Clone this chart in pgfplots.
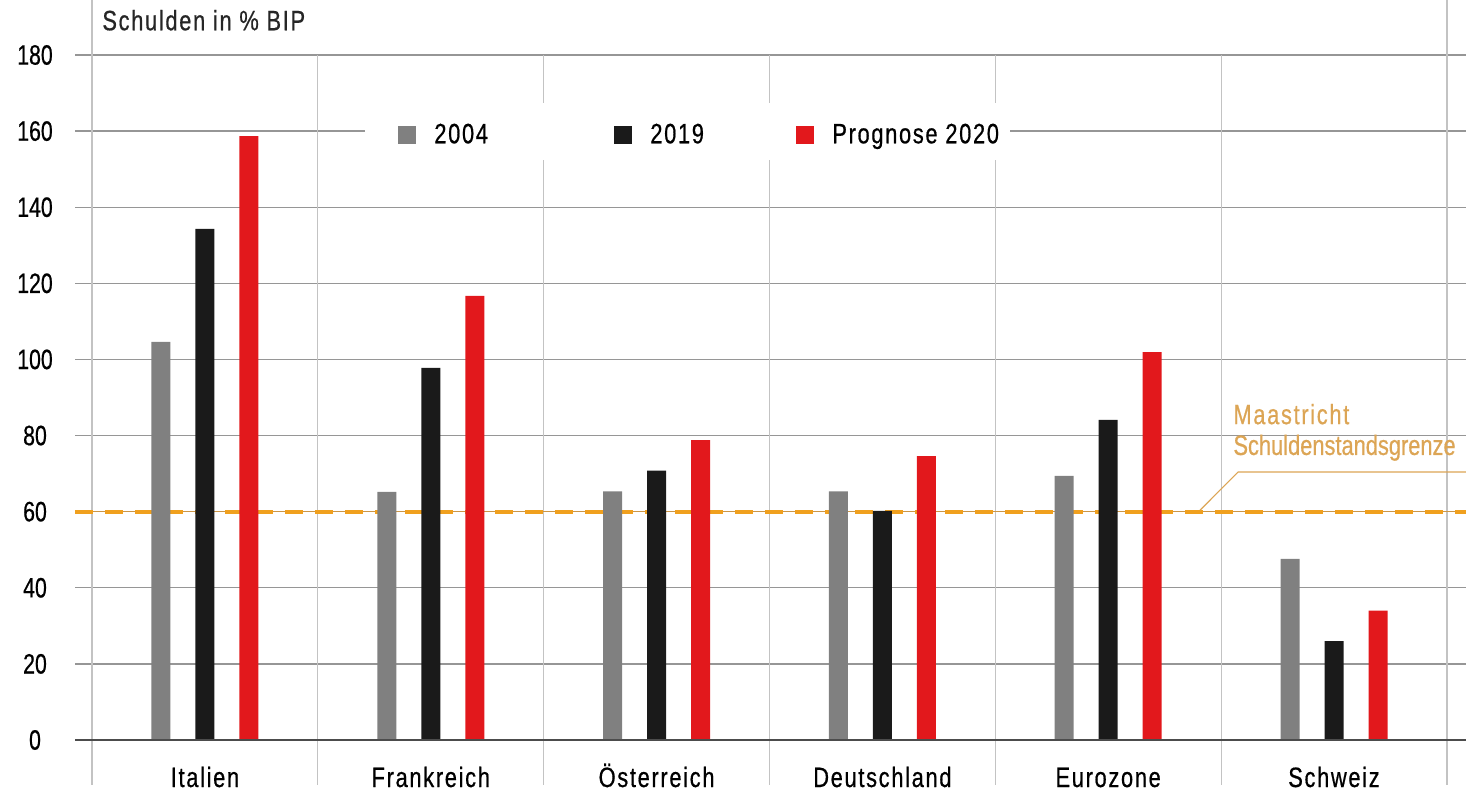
\documentclass[border=0pt]{standalone}
\usepackage{fontspec}
\setmainfont{Liberation Sans}[FakeStretch=0.78,LetterSpace=6,FakeBold=0.6]
\newfontfamily\numfont{Liberation Sans}[FakeStretch=0.76,FakeBold=0.6]
\usepackage{pgfplots}
\pgfplotsset{compat=1.18}

\definecolor{barGray}{RGB}{128,128,128}
\definecolor{barBlack}{RGB}{26,26,26}
\definecolor{barRed}{RGB}{226,24,28}
\definecolor{limitOrange}{RGB}{240,160,30}
\definecolor{limitThin}{RGB}{205,150,70}
\definecolor{noteTan}{RGB}{220,165,85}
\definecolor{gridH}{RGB}{150,150,150}
\definecolor{gridV}{RGB}{195,195,195}

\begin{document}
\begin{tikzpicture}[font=\fontsize{14}{16}\selectfont]
\path[use as bounding box, clip] (0,0) rectangle (733pt,396pt);
\begin{axis}[
  at={(37.5pt,26pt)}, anchor=south west,
  scale only axis, width=695.5pt, height=342.5pt,
  xmin=-0.5757, xmax=5.5846, ymin=0, ymax=180,
  clip=false,
  axis line style={draw=none},
  ytick={0,20,...,180},
  xtick={0,...,5},
  xticklabels={Italien,Frankreich,Österreich,Deutschland,Eurozone,Schweiz},
  major tick length=0pt,
  ymajorgrids, grid style={gridH, line width=0.7pt},
  /pgf/number format/assume math mode=true,
  yticklabel style={font=\numfont\fontsize{14}{16}\selectfont, anchor=center, xshift=-20pt},
  xticklabel style={anchor=base, inner sep=0pt, yshift=-23.5pt},
  legend style={at={(0.2322,0.8832)}, anchor=west, draw=none, fill=none,
    inner sep=0pt, nodes={inner sep=0pt},
    /tikz/every odd column/.append style={column sep=9pt},
    /tikz/every even column/.append style={column sep=0pt}},
  legend columns=3,
  legend image code/.code={\fill[#1] (0pt,-4.5pt) rectangle (9pt,4.5pt);},
]
% vertical separators
\pgfplotsinvokeforeach{-0.5,0.5,1.5,2.5,3.5,4.5,5.5}{
  \draw[gridV, line width=0.6pt] (axis cs:#1,180) -- ([yshift=-22.5pt]axis cs:#1,0);
}
\draw[gridV, line width=0.6pt] (axis cs:-0.5,180) -- ([yshift=30pt]axis cs:-0.5,180);
\draw[gridV, line width=0.6pt] (axis cs:5.5,180) -- ([yshift=30pt]axis cs:5.5,180);
% legend background
\fill[white] (axis cs:0.709,152.4) rectangle (axis cs:3.565,167.4);

% Maastricht limit
\addplot[limitThin, line width=0.5pt, forget plot] coordinates {(-0.5757,60) (5.5846,60)};
\addplot[limitOrange, line width=2pt, dash pattern=on 9pt off 6pt, forget plot]
  coordinates {(-0.5757,60) (5.5846,60)};

\addplot[ybar, bar width=9.5pt, bar shift=-22pt, fill=barGray, draw=none]
  coordinates {(0,104.6) (1,65.2) (2,65.3) (3,65.3) (4,69.4) (5,47.6)};
\addlegendentry{\makebox[90pt][l]{2004}}
\addplot[ybar, bar width=9.5pt, bar shift=0pt, fill=barBlack, draw=none]
  coordinates {(0,134.3) (1,97.8) (2,70.8) (3,60.2) (4,84.1) (5,26.0)};
\addlegendentry{\makebox[73pt][l]{2019}}
\addplot[ybar, bar width=9.5pt, bar shift=22pt, fill=barRed, draw=none]
  coordinates {(0,158.7) (1,116.7) (2,78.8) (3,74.6) (4,101.9) (5,34.0)};
\addlegendentry{Prognose 2020}

% x axis line
\draw[black!70, line width=1.2pt] (axis cs:-0.5757,0) -- (axis cs:5.5846,0);

% annotation
\draw[noteTan, line width=0.6pt] (axis cs:4.4066,60.4) -- (axis cs:4.575,70.4) -- (axis cs:5.5846,70.4);
\node[noteTan, anchor=base west, inner sep=0pt] at (axis cs:4.553,83.0) {Maastricht};
\node[noteTan, anchor=base west, inner sep=0pt] at (axis cs:4.553,74.9)
  {\addfontfeature{LetterSpace=0}Schuldenstandsgrenze};

% y label
\node[anchor=base west, inner sep=0pt, black!85] at (axis cs:-0.456,186.5) {Schulden in \% BIP};
\end{axis}
\end{tikzpicture}
\end{document}
